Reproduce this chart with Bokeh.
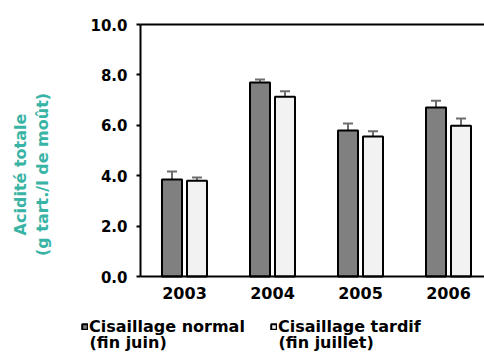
import math
from bokeh.plotting import figure
from bokeh.models import (ColumnDataSource, Whisker, FixedTicker, LinearAxis,
                          Legend, LegendItem, TeeHead, Label)
from bokeh.transform import dodge
from bokeh.embed import file_html
from bokeh.resources import INLINE

years = ["2003", "2004", "2005", "2006"]
normal = [3.85, 7.70, 5.79, 6.71]
normal_err = [0.32, 0.12, 0.28, 0.26]
tardif = [3.80, 7.13, 5.56, 5.98]
tardif_err = [0.13, 0.22, 0.20, 0.29]
y_ticks = [0, 2, 4, 6, 8, 10]
legend_main = ["Cisaillage normal", "Cisaillage tardif"]
legend_sub = ["(fin juin)", "(fin juillet)"]
y_title = ["Acidité totale", "(g tart./l de moût)"]

FONT = "DejaVu Sans"
TEAL = "#38b4a5"

W, H = 484, 352
X0, Y0, YT = 140, 276, 24          # axis pixel positions
PX_CAT = 88                          # pixels per category
PX_UNIT = (Y0 - YT) / 10

idx = list(range(len(years)))
src = ColumnDataSource(dict(
    idx=idx,
    normal=normal,
    normal_up=[v + e for v, e in zip(normal, normal_err)],
    tardif=tardif,
    tardif_up=[v + e for v, e in zip(tardif, tardif_err)],
))

x_start = -0.5 - X0 / PX_CAT
x_end = -0.5 + (W - X0) / PX_CAT
y_start = -(H - Y0) / PX_UNIT
y_end = 10 + YT / PX_UNIT

p = figure(width=W, height=H, x_range=(x_start, x_end), y_range=(y_start, y_end),
           output_backend="svg", toolbar_location=None,
           min_border_left=0, min_border_right=0, min_border_top=0, min_border_bottom=0)
p.outline_line_color = None
p.grid.visible = False
p.background_fill_color = "white"

off = 12.5 / PX_CAT
bw = 20 / PX_CAT
r1 = p.vbar(x=dodge("idx", -off, range=p.x_range), top="normal", width=bw, source=src,
            fill_color="#808080", line_color="black", line_width=2)
r2 = p.vbar(x=dodge("idx", off, range=p.x_range), top="tardif", width=bw, source=src,
            fill_color="#f2f2f2", line_color="black", line_width=2)

for col, up, o in (("normal", "normal_up", -off), ("tardif", "tardif_up", off)):
    w = Whisker(base=dodge("idx", o, range=p.x_range), upper=up, lower=col, source=src,
                line_color="#6e6e6e", line_width=2, lower_head=None,
                upper_head=TeeHead(size=10, line_color="#6e6e6e", line_width=2))
    p.add_layout(w)

ax = p.yaxis[0]
ax.fixed_location = -0.5
ax.bounds = (0, 10)
ax.ticker = FixedTicker(ticks=y_ticks)
ax.major_label_overrides = {t: f"{t:.1f}" for t in y_ticks}
ax.axis_line_width = 2
ax.axis_line_color = "black"
ax.major_tick_out = 4
ax.major_tick_in = 0
ax.major_tick_line_width = 2
ax.minor_tick_line_color = None
ax.major_label_text_font = FONT
ax.major_label_text_font_style = "bold"
ax.major_label_text_font_size = "15px"
ax.major_label_text_color = "black"
ax.major_label_standoff = 9

bx = p.xaxis[0]
bx.fixed_location = 0
bx.bounds = (-0.5, x_end)
bx.ticker = FixedTicker(ticks=idx)
bx.major_label_overrides = {i: y for i, y in zip(idx, years)}
bx.axis_line_width = 2
bx.axis_line_color = "black"
bx.major_tick_line_color = None
bx.minor_tick_line_color = None
bx.major_label_text_font = FONT
bx.major_label_text_font_style = "bold"
bx.major_label_text_font_size = "16px"
bx.major_label_text_color = "black"
bx.major_label_standoff = 4

top = LinearAxis(fixed_location=10, bounds=(-0.5, x_end), ticker=FixedTicker(ticks=[]),
                 axis_line_width=2, axis_line_color="black",
                 major_tick_line_color=None, minor_tick_line_color=None,
                 major_label_text_font_size="0px")
p.add_layout(top, "above")

for i, t in enumerate(y_title):
    p.add_layout(Label(x=20 + 22 * i, y=H - 174, x_units="screen", y_units="screen", text=t,
                       angle=math.pi / 2, text_align="center", text_baseline="middle",
                       text_font=FONT, text_font_style="bold", text_font_size="16px",
                       text_color=TEAL))

lg = Legend(items=[LegendItem(label=legend_main[0], renderers=[r1]),
                   LegendItem(label=legend_main[1], renderers=[r2])],
            location=(81, 16), orientation="horizontal", border_line_color=None,
            background_fill_alpha=0, padding=0, margin=0, spacing=25,
            glyph_width=7, glyph_height=7, label_standoff=1,
            label_text_font=FONT, label_text_font_style="bold",
            label_text_font_size="16px", label_text_color="black")
p.add_layout(lg)

for t, x in zip(legend_sub, (89, 278)):
    p.add_layout(Label(x=x, y=1, x_units="screen", y_units="screen", text=t,
                       text_align="left", text_baseline="bottom",
                       text_font=FONT, text_font_style="bold", text_font_size="16px",
                       text_color="black"))

open("out.html", "w").write(file_html(p, INLINE))
